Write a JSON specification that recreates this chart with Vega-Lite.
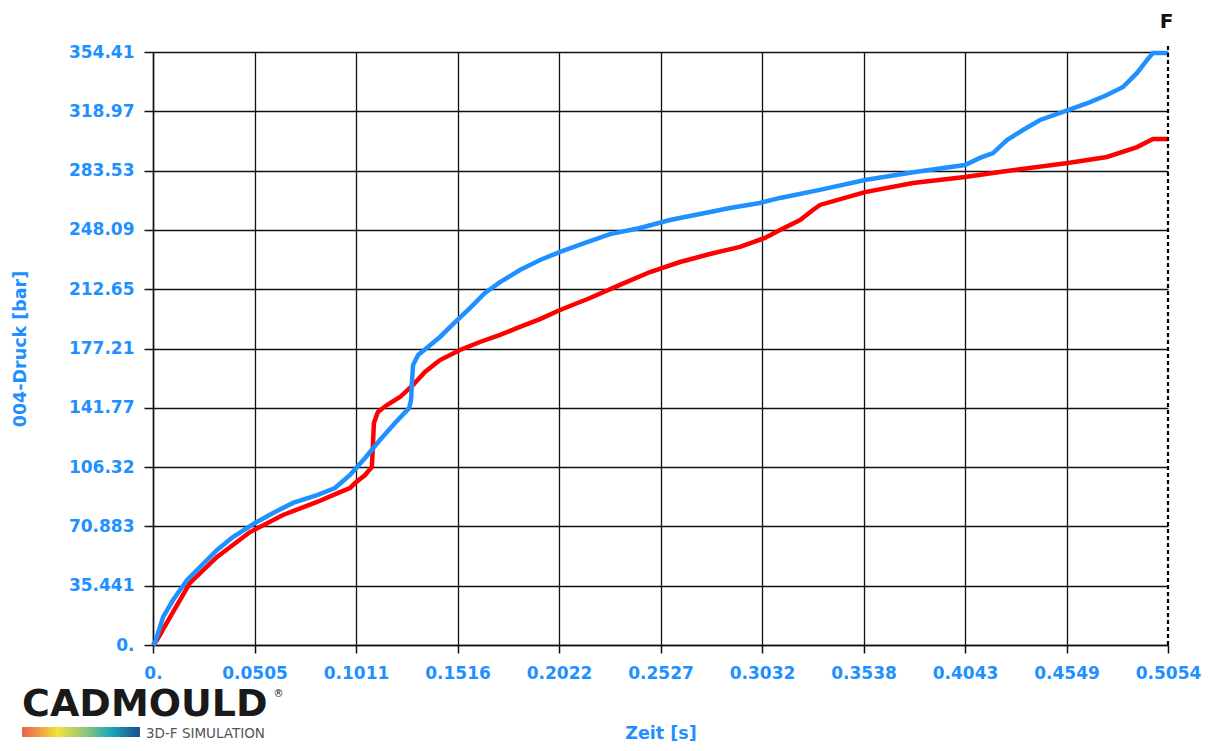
{
  "$schema": "https://vega.github.io/schema/vega-lite/v6.json",
  "width": 1015,
  "height": 593,
  "autosize": {"type": "none"},
  "padding": {"left": 153, "top": 52, "right": 44, "bottom": 106},
  "background": "white",
  "config": {
    "view": {"stroke": null},
    "font": "DejaVu Sans",
    "axis": {
      "labelFont": "DejaVu Sans",
      "labelFontWeight": "bold",
      "labelFontSize": 17,
      "labelColor": "#1E90FF",
      "titleFont": "DejaVu Sans",
      "titleFontWeight": "bold",
      "titleFontSize": 17.5,
      "titleColor": "#1E90FF",
      "domainColor": "#111111",
      "domainWidth": 1.5,
      "tickColor": "#111111",
      "tickWidth": 1.5,
      "gridColor": "#111111",
      "gridWidth": 1.3
    }
  },
  "datasets": {
    "curves": [
      {"t": 0, "p": 0, "s": "blue"},
      {"t": 0.0010, "p": 1.2, "s": "blue"},
      {"t": 0.0050, "p": 16.7, "s": "blue"},
      {"t": 0.0100, "p": 26.9, "s": "blue"},
      {"t": 0.0169, "p": 38.8, "s": "blue"},
      {"t": 0.0234, "p": 46.6, "s": "blue"},
      {"t": 0.0319, "p": 56.8, "s": "blue"},
      {"t": 0.0398, "p": 64.5, "s": "blue"},
      {"t": 0.0508, "p": 72.9, "s": "blue"},
      {"t": 0.0598, "p": 78.9, "s": "blue"},
      {"t": 0.0697, "p": 84.9, "s": "blue"},
      {"t": 0.0817, "p": 89.6, "s": "blue"},
      {"t": 0.0906, "p": 93.8, "s": "blue"},
      {"t": 0.0981, "p": 101.6, "s": "blue"},
      {"t": 0.1056, "p": 111.8, "s": "blue"},
      {"t": 0.1130, "p": 122.5, "s": "blue"},
      {"t": 0.1205, "p": 132.7, "s": "blue"},
      {"t": 0.1275, "p": 141.6, "s": "blue"},
      {"t": 0.1285, "p": 146.4, "s": "blue"},
      {"t": 0.1290, "p": 158.4, "s": "blue"},
      {"t": 0.1295, "p": 167.3, "s": "blue"},
      {"t": 0.1320, "p": 173.3, "s": "blue"},
      {"t": 0.1369, "p": 178.1, "s": "blue"},
      {"t": 0.1429, "p": 184.1, "s": "blue"},
      {"t": 0.1504, "p": 193.0, "s": "blue"},
      {"t": 0.1578, "p": 201.4, "s": "blue"},
      {"t": 0.1653, "p": 210.4, "s": "blue"},
      {"t": 0.1728, "p": 216.9, "s": "blue"},
      {"t": 0.1827, "p": 224.1, "s": "blue"},
      {"t": 0.1927, "p": 230.1, "s": "blue"},
      {"t": 0.2027, "p": 234.9, "s": "blue"},
      {"t": 0.2151, "p": 240.3, "s": "blue"},
      {"t": 0.2276, "p": 245.6, "s": "blue"},
      {"t": 0.2425, "p": 249.2, "s": "blue"},
      {"t": 0.2574, "p": 254.0, "s": "blue"},
      {"t": 0.2724, "p": 257.6, "s": "blue"},
      {"t": 0.2873, "p": 261.2, "s": "blue"},
      {"t": 0.3022, "p": 264.2, "s": "blue"},
      {"t": 0.3122, "p": 267.2, "s": "blue"},
      {"t": 0.3321, "p": 272.0, "s": "blue"},
      {"t": 0.3545, "p": 277.9, "s": "blue"},
      {"t": 0.3794, "p": 282.7, "s": "blue"},
      {"t": 0.4043, "p": 286.9, "s": "blue"},
      {"t": 0.4118, "p": 291.1, "s": "blue"},
      {"t": 0.4183, "p": 294.0, "s": "blue"},
      {"t": 0.4252, "p": 301.8, "s": "blue"},
      {"t": 0.4332, "p": 307.8, "s": "blue"},
      {"t": 0.4417, "p": 313.8, "s": "blue"},
      {"t": 0.4556, "p": 319.7, "s": "blue"},
      {"t": 0.4666, "p": 324.5, "s": "blue"},
      {"t": 0.4750, "p": 328.7, "s": "blue"},
      {"t": 0.4830, "p": 333.5, "s": "blue"},
      {"t": 0.4900, "p": 341.9, "s": "blue"},
      {"t": 0.4949, "p": 349.6, "s": "blue"},
      {"t": 0.4979, "p": 353.8, "s": "blue"},
      {"t": 0.5054, "p": 353.8, "s": "blue"},
      {"t": 0, "p": 0, "s": "red"},
      {"t": 0.0020, "p": 3.0, "s": "red"},
      {"t": 0.0085, "p": 16.7, "s": "red"},
      {"t": 0.0184, "p": 37.1, "s": "red"},
      {"t": 0.0319, "p": 52.6, "s": "red"},
      {"t": 0.0483, "p": 67.5, "s": "red"},
      {"t": 0.0647, "p": 77.7, "s": "red"},
      {"t": 0.0817, "p": 85.5, "s": "red"},
      {"t": 0.0931, "p": 91.4, "s": "red"},
      {"t": 0.0981, "p": 93.8, "s": "red"},
      {"t": 0.1006, "p": 96.8, "s": "red"},
      {"t": 0.1056, "p": 101.6, "s": "red"},
      {"t": 0.1090, "p": 106.4, "s": "red"},
      {"t": 0.1095, "p": 119.5, "s": "red"},
      {"t": 0.1100, "p": 132.7, "s": "red"},
      {"t": 0.1120, "p": 139.3, "s": "red"},
      {"t": 0.1165, "p": 143.4, "s": "red"},
      {"t": 0.1230, "p": 148.2, "s": "red"},
      {"t": 0.1295, "p": 155.4, "s": "red"},
      {"t": 0.1354, "p": 163.2, "s": "red"},
      {"t": 0.1429, "p": 170.3, "s": "red"},
      {"t": 0.1528, "p": 176.3, "s": "red"},
      {"t": 0.1628, "p": 181.1, "s": "red"},
      {"t": 0.1728, "p": 185.3, "s": "red"},
      {"t": 0.1827, "p": 190.1, "s": "red"},
      {"t": 0.1927, "p": 194.8, "s": "red"},
      {"t": 0.2027, "p": 200.2, "s": "red"},
      {"t": 0.2176, "p": 207.4, "s": "red"},
      {"t": 0.2325, "p": 215.2, "s": "red"},
      {"t": 0.2475, "p": 222.9, "s": "red"},
      {"t": 0.2624, "p": 228.9, "s": "red"},
      {"t": 0.2773, "p": 233.7, "s": "red"},
      {"t": 0.2923, "p": 237.9, "s": "red"},
      {"t": 0.3047, "p": 243.3, "s": "red"},
      {"t": 0.3122, "p": 248.0, "s": "red"},
      {"t": 0.3222, "p": 254.0, "s": "red"},
      {"t": 0.3286, "p": 260.0, "s": "red"},
      {"t": 0.3321, "p": 263.0, "s": "red"},
      {"t": 0.3545, "p": 270.7, "s": "red"},
      {"t": 0.3784, "p": 276.1, "s": "red"},
      {"t": 0.4043, "p": 279.7, "s": "red"},
      {"t": 0.4217, "p": 282.7, "s": "red"},
      {"t": 0.4556, "p": 288.1, "s": "red"},
      {"t": 0.4750, "p": 291.7, "s": "red"},
      {"t": 0.4900, "p": 297.6, "s": "red"},
      {"t": 0.4979, "p": 302.4, "s": "red"},
      {"t": 0.5054, "p": 302.4, "s": "red"}
    ]
  },
  "layer": [
    {
      "data": {"name": "curves"},
      "transform": [{"filter": "datum.s === 'red'"}],
      "mark": {"type": "line", "color": "#FF0000", "strokeWidth": 4.5, "clip": false},
      "encoding": {
        "x": {
          "field": "t", "type": "quantitative",
          "scale": {"domain": [0, 0.5054], "nice": false, "zero": false},
          "axis": {
            "title": "Zeit [s]",
            "values": [0, 0.05054, 0.10108, 0.15162, 0.20216, 0.2527, 0.30324, 0.35378, 0.40432, 0.45486, 0.5054],
            "labelExpr": "datum.value == 0 ? '0.' : format(datum.value, '.4f')",
            "tickSize": 8,
            "labelPadding": 12,
            "titlePadding": 43,
            "grid": true,
            "gridOpacity": {"condition": {"test": "datum.value > 0.505", "value": 0}, "value": 1},
            "labelFlush": false,
            "labelOverlap": false
          }
        },
        "y": {
          "field": "p", "type": "quantitative",
          "scale": {"domain": [0, 354.413], "nice": false, "zero": false},
          "axis": {
            "title": "004-Druck [bar]",
            "values": [0, 35.4413, 70.8826, 106.3239, 141.7652, 177.2065, 212.6478, 248.0891, 283.5304, 318.9717, 354.413],
            "labelExpr": "datum.value == 0 ? '0.' : format(datum.value, '.5r')",
            "tickSize": 9,
            "labelPadding": 10,
            "titlePadding": 39,
            "grid": true,
            "labelFlush": false,
            "labelOverlap": false
          }
        }
      }
    },
    {
      "data": {"name": "curves"},
      "transform": [{"filter": "datum.s === 'blue'"}],
      "mark": {"type": "line", "color": "#1E90FF", "strokeWidth": 4.5, "clip": false},
      "encoding": {
        "x": {"field": "t", "type": "quantitative"},
        "y": {"field": "p", "type": "quantitative"}
      }
    },
    {
      "data": {"values": [{"t": 0.5054, "y0": 0, "y1": 359.8}]},
      "mark": {"type": "rule", "color": "#000000", "strokeWidth": 2.2, "strokeDash": [4, 3]},
      "encoding": {
        "x": {"field": "t", "type": "quantitative"},
        "y": {"field": "y0", "type": "quantitative"},
        "y2": {"field": "y1"}
      }
    },
    {
      "data": {"values": [{"t": 0.5047, "p": 368.5, "label": "F"}]},
      "mark": {"type": "text", "color": "#111111", "fontSize": 20, "fontWeight": "bold", "font": "DejaVu Sans", "align": "center", "baseline": "alphabetic"},
      "encoding": {
        "x": {"field": "t", "type": "quantitative"},
        "y": {"field": "p", "type": "quantitative"},
        "text": {"field": "label"}
      }
    },
    {
      "data": {"values": [{"t": -0.0652, "p": -42.4, "label": "CADMOULD"}]},
      "mark": {"type": "text", "color": "#1a1a1a", "fontSize": 38, "fontWeight": 900, "font": "DejaVu Sans", "align": "left", "baseline": "alphabetic"},
      "encoding": {
        "x": {"field": "t", "type": "quantitative"},
        "y": {"field": "p", "type": "quantitative"},
        "text": {"field": "label"}
      }
    },
    {
      "data": {"values": [{"t": 0.0600, "p": -31.0, "label": "®"}]},
      "mark": {"type": "text", "color": "#1a1a1a", "fontSize": 10, "font": "DejaVu Sans", "align": "left", "baseline": "alphabetic"},
      "encoding": {
        "x": {"field": "t", "type": "quantitative"},
        "y": {"field": "p", "type": "quantitative"},
        "text": {"field": "label"}
      }
    },
    {
      "data": {"values": [{"t0": -0.0652, "t1": -0.0065, "p0": -49.0, "p1": -55.0}]},
      "mark": {
        "type": "rect",
        "color": {
          "gradient": "linear", "x1": 0, "y1": 0, "x2": 1, "y2": 0,
          "stops": [
            {"offset": 0, "color": "#e8604c"},
            {"offset": 0.3, "color": "#f2e23c"},
            {"offset": 0.55, "color": "#8cc47e"},
            {"offset": 0.75, "color": "#17a9b7"},
            {"offset": 1, "color": "#1b4d8c"}
          ]
        }
      },
      "encoding": {
        "x": {"field": "t0", "type": "quantitative"},
        "x2": {"field": "t1"},
        "y": {"field": "p0", "type": "quantitative"},
        "y2": {"field": "p1"}
      }
    },
    {
      "data": {"values": [{"t": -0.0035, "p": -55.6, "label": "3D-F SIMULATION"}]},
      "mark": {"type": "text", "color": "#555555", "fontSize": 13.5, "font": "DejaVu Sans", "align": "left", "baseline": "alphabetic"},
      "encoding": {
        "x": {"field": "t", "type": "quantitative"},
        "y": {"field": "p", "type": "quantitative"},
        "text": {"field": "label"}
      }
    }
  ]
}
